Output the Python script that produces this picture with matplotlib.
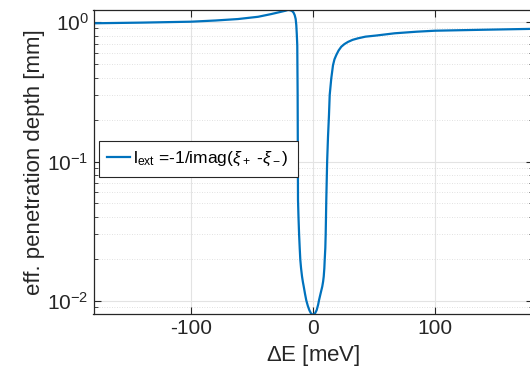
import matplotlib
matplotlib.use('Agg')
import matplotlib.pyplot as plt
from matplotlib.ticker import LogLocator, NullFormatter

plt.rcParams['font.family'] = ['Liberation Sans', 'DejaVu Sans']
plt.rcParams['mathtext.fontset'] = 'custom'
plt.rcParams['mathtext.rm'] = 'Liberation Sans'
plt.rcParams['mathtext.it'] = 'Liberation Sans:italic'
plt.rcParams['mathtext.sf'] = 'Liberation Sans'
plt.rcParams['axes.unicode_minus'] = False

# energy detuning [meV] and effective penetration depth [mm]
dE = [-180, -140, -100, -80, -61.5, -45, -34.2, -26, -22.5, -20.5, -18.8, -17.2,
      -16, -15, -14.2, -13.7, -13.3, -12.9, -12.6, -12.3, -11.9,
      -11.4, -10.9, -10.4, -9.8, -9, -8.3, -7.6, -6.5, -5.5, -4.2, -3, -1.5, 0,
      1.5, 3, 4.2, 4.9, 6.2, 7.6, 8.3, 8.8, 9.3, 9.6,
      10.1, 10.4, 10.9, 11.6, 12.3, 13.1, 13.7, 15.0, 16.4, 17.6, 19.1, 21, 23.2,
      25.8, 28.7, 32.5, 36.9, 43, 51.9, 67, 85, 100, 140, 180]
l_ext = [0.979, 0.99, 1.005, 1.025, 1.05, 1.09, 1.14, 1.185, 1.205, 1.22, 1.215, 1.2,
         1.17, 1.12, 1.05, 0.95, 0.82, 0.68, 0.3, 0.053, 0.04,
         0.03, 0.024, 0.0197, 0.0172, 0.015, 0.0137, 0.0127, 0.0112, 0.0101, 0.0092,
         0.0086, 0.0081, 0.00796,
         0.0081, 0.0086, 0.0094, 0.0101, 0.0113, 0.0127, 0.0138, 0.015, 0.0172, 0.0197,
         0.024, 0.03, 0.053, 0.1, 0.15, 0.215,
         0.30, 0.395, 0.49, 0.54, 0.58, 0.625, 0.665,
         0.695, 0.72, 0.745, 0.764, 0.785, 0.80, 0.83, 0.852, 0.866, 0.88, 0.893]

xticks = [-100, 0, 100]

fig = plt.figure(figsize=(5.3, 3.76), dpi=100)
ax = fig.add_axes([93.5 / 530, 1 - 314 / 376, 439 / 530, 304 / 376])

ax.semilogy(dE, l_ext, color='#0072BD', lw=1.6,
            label=r'l$_{\rm ext}$ =-1/imag($\xi_+$ -$\xi_-$)')

ax.set_xlim(-180, 180)
ax.set_ylim(0.00807, 1.219)
ax.set_xticks(xticks)
ax.yaxis.set_major_locator(LogLocator(base=10, numticks=10))
ax.yaxis.set_minor_locator(LogLocator(base=10, subs=range(2, 10), numticks=10))
ax.yaxis.set_minor_formatter(NullFormatter())

ax.grid(True, which='major', color='#e3e3e3', lw=0.8)
ax.grid(True, which='minor', axis='y', color='#d8d8d8', lw=0.6, linestyle=(0, (1, 2)))
ax.set_axisbelow(True)

ax.tick_params(which='both', direction='in', top=True, right=True,
               colors='#262626', labelsize=15)
ax.tick_params(which='major', length=5, width=0.8)
ax.tick_params(which='minor', length=3, width=0.6)
for s in ax.spines.values():
    s.set_color('#262626')
    s.set_linewidth(0.9)

ax.set_xlabel(r'$\Delta$E [meV]', fontsize=16, color='#262626', labelpad=4)
ax.set_ylabel('eff. penetration depth [mm]', fontsize=16, color='#262626', labelpad=2)

leg = ax.legend(loc='center left', bbox_to_anchor=(0.0, 0.51), fontsize=12.5,
                handlelength=1.3, handletextpad=0.2, borderpad=0.5,
                borderaxespad=0.3, fancybox=False, framealpha=1)
leg.get_frame().set_edgecolor('#262626')
leg.get_frame().set_linewidth(0.8)

fig.savefig('out.png', dpi=100)
